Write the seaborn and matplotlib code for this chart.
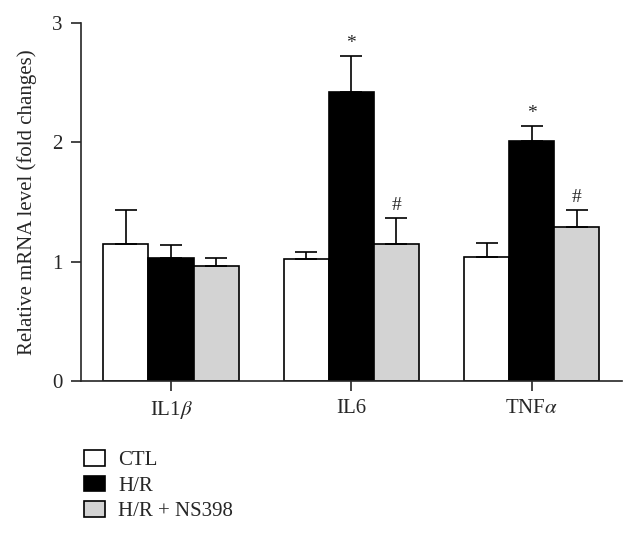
import numpy as np
import pandas as pd
import seaborn as sns
import matplotlib.pyplot as plt
from matplotlib.patches import Patch

# values
genes = ["IL1$\\beta$", "IL6", "TNF$\\alpha$"]
groups = ["CTL", "H/R", "H/R + NS398"]
ctl = [1.15, 1.02, 1.04]
hr = [1.03, 2.42, 2.01]
ns398 = [0.96, 1.15, 1.29]
ctl_err = [0.28, 0.06, 0.12]
hr_err = [0.11, 0.30, 0.13]
ns398_err = [0.07, 0.22, 0.14]
marks_hr = ["", "*", "*"]
marks_ns = ["", "#", "#"]
colors = ["white", "black", "#d3d3d3"]

df = pd.DataFrame({
    "gene": genes * 3,
    "group": [g for g in groups for _ in genes],
    "value": ctl + hr + ns398,
    "err": ctl_err + hr_err + ns398_err,
    "mark": [""] * 3 + marks_hr + marks_ns,
})

sns.set_style("ticks")
plt.rcParams["font.family"] = ["Liberation Serif", "DejaVu Serif"]
plt.rcParams["mathtext.fontset"] = "stix"

fig = plt.figure(figsize=(6.36, 5.33), dpi=100)
ax = fig.add_axes([0.127, 0.285, 0.851, 0.672])

sns.barplot(data=df, x="gene", y="value", hue="group", palette=colors,
            width=0.75, errorbar=None, edgecolor="black", linewidth=1.2,
            legend=False, ax=ax)

# upper-only error bars + significance marks
for cont, (_, sub) in zip(ax.containers, df.groupby("group", sort=False)):
    for bar, err, mark in zip(cont, sub["err"], sub["mark"]):
        xc = bar.get_x() + bar.get_width() / 2
        h = bar.get_height()
        ax.errorbar(xc, h, yerr=[[0], [err]], fmt="none", ecolor="black",
                    elinewidth=1.2, capsize=8, capthick=1.2)
        if mark:
            ax.annotate(mark, (xc, h + err), xytext=(0, 9),
                        textcoords="offset points", ha="center", va="center",
                        fontsize=14)

ax.set_xlim(-0.5, 2.5)
ax.set_ylim(0, 3)
ax.set_yticks([0, 1, 2, 3])
ax.set_xlabel("")
ax.set_ylabel("Relative mRNA level (fold changes)", fontsize=15, labelpad=11)
ax.tick_params(axis="both", length=7, width=1.2, labelsize=15, pad=6)
for s in ["left", "bottom"]:
    ax.spines[s].set_linewidth(1.2)
sns.despine(ax=ax)

handles = [Patch(facecolor=c, edgecolor="black", linewidth=1.2) for c in colors]
fig.legend(handles, groups, loc="upper left", bbox_to_anchor=(0.115, 0.175),
           frameon=False, fontsize=15, handlelength=1.05, handleheight=0.8,
           handletextpad=0.6, labelspacing=0.25, borderpad=0)

fig.savefig("out.png", dpi=100)
